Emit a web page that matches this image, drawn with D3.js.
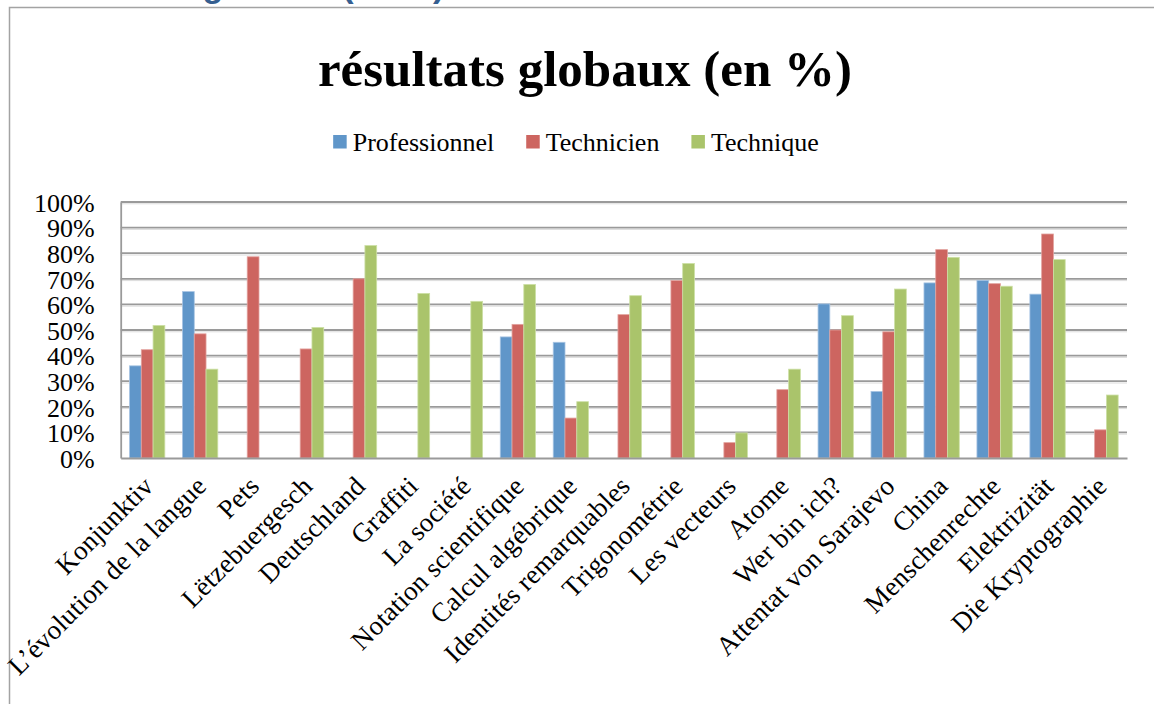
<!DOCTYPE html>
<html>
<head>
<meta charset="utf-8">
<script src="https://cdn.jsdelivr.net/npm/d3@7"></script>
<style>
  body { margin: 0; background: #fff; }
  svg { display: block; font-family: "Liberation Serif", "Times New Roman", serif; }
</style>
</head>
<body>
<div id="chart"></div>
<script>
// values (percent)
const categories = ["Konjunktiv", "L’évolution de la langue", "Pets", "Lëtzebuergesch", "Deutschland",
  "Graffiti", "La société", "Notation scientifique", "Calcul algébrique", "Identités remarquables",
  "Trigonométrie", "Les vecteurs", "Atome", "Wer bin ich?", "Attentat von Sarajevo", "China",
  "Menschenrechte", "Elektrizität", "Die Kryptographie"];
const seriesNames = ["Professionnel", "Technicien", "Technique"];
const professionnel = [36, 65, null, null, null, null, null, 47.3, 45.2, null, null, null, null, 60.2, 26, 68.4, 69.4, 64, null];
const technicien = [42.3, 48.5, 78.6, 42.6, 70, null, null, 52.2, 15.6, 56, 69.3, 6, 26.7, 50, 49.3, 81.4, 68.1, 87.5, 11];
const technique = [51.8, 34.7, null, 51, 83, 64.3, 61.2, 67.8, 22, 63.4, 76, 9.8, 34.7, 55.6, 66, 78.4, 67.1, 77.5, 24.6];
const yTicks = [0, 0.1, 0.2, 0.3, 0.4, 0.5, 0.6, 0.7, 0.8, 0.9, 1];

const colors = ["#6096c9", "#cd6560", "#aac46b"];
const edges = ["#a7c4e3", "#e2a29e", "#cde0a6"];
const serif = "Liberation Serif, Times New Roman, serif";

const width = 1154, height = 704;
const plot = { left: 120.7, right: 1127, top: 202, bottom: 458 };

const svg = d3.select("#chart").append("svg")
  .attr("width", width)
  .attr("height", height);

// frame of the embedded chart
svg.append("path")
  .attr("d", "M9.5," + height + "V7.5H" + width)
  .attr("fill", "none")
  .attr("stroke", "#a3a3a3")
  .attr("stroke-width", 1.5);

// cut-off heading of the page above the chart
svg.append("text")
  .attr("x", 40)
  .attr("y", -3)
  .attr("font-family", "Liberation Sans, sans-serif")
  .attr("font-weight", "bold")
  .attr("font-size", 34)
  .attr("fill", "#365f91")
  .text("Résultats globaux (en %)");

svg.append("text")
  .attr("x", 585)
  .attr("y", 86)
  .attr("text-anchor", "middle")
  .attr("font-family", serif)
  .attr("font-weight", "bold")
  .attr("font-size", 51)
  .text("résultats globaux (en %)");

const rows = categories.map((c, i) => ({
  name: c,
  values: [professionnel[i], technicien[i], technique[i]]
}));

const x = d3.scaleBand().domain(categories).range([plot.left, plot.right]);
const x1 = d3.scaleBand().domain(seriesNames).range([0, x.bandwidth()]).paddingOuter(0.75);
const y = d3.scaleLinear().domain([0, 1]).range([plot.bottom, plot.top]);

// gridlines
const grid = svg.append("g");
grid.selectAll("line.shadow")
  .data(yTicks.slice(1))
  .enter().append("line")
  .attr("class", "shadow")
  .attr("x1", plot.left).attr("x2", plot.right)
  .attr("y1", d => y(d) + 1.8).attr("y2", d => y(d) + 1.8)
  .attr("stroke", "#dcdcdc")
  .attr("stroke-width", 1);
grid.selectAll("line.major")
  .data(yTicks.slice(1))
  .enter().append("line")
  .attr("class", "major")
  .attr("x1", plot.left).attr("x2", plot.right)
  .attr("y1", d => y(d)).attr("y2", d => y(d))
  .attr("stroke", "#9a9a9a")
  .attr("stroke-width", 1.8);

// bars
const groups = svg.append("g").selectAll("g")
  .data(rows)
  .enter().append("g")
  .attr("transform", d => "translate(" + x(d.name) + ",0)");

groups.selectAll("rect")
  .data(d => d.values.map((v, k) => ({ key: seriesNames[k], k: k, v: v })).filter(e => e.v != null))
  .enter().append("rect")
  .attr("x", d => x1(d.key))
  .attr("y", d => y(d.v / 100))
  .attr("width", x1.bandwidth())
  .attr("height", d => y(0) - y(d.v / 100))
  .attr("fill", d => colors[d.k])
  .attr("stroke", d => edges[d.k])
  .attr("stroke-width", 0.8);

// axes
const yAxis = svg.append("g")
  .attr("transform", "translate(" + plot.left + ",0)")
  .call(d3.axisLeft(y).tickValues(yTicks).tickFormat(d3.format(".0%")).tickSize(0).tickPadding(26));
yAxis.select(".domain").attr("stroke", "#9a9a9a").attr("stroke-width", 1.8);
yAxis.selectAll("text")
  .attr("font-family", serif)
  .attr("font-size", 26)
  .attr("fill", "#000")
  .attr("dy", "0.36em");

const xAxis = svg.append("g")
  .attr("transform", "translate(0," + plot.bottom + ")")
  .call(d3.axisBottom(x).tickSize(0).tickFormat(""));
xAxis.select(".domain").attr("stroke", "#9a9a9a").attr("stroke-width", 1.8);

svg.append("g").selectAll("text")
  .data(categories)
  .enter().append("text")
  .attr("transform", d => "translate(" + (x(d) + x.bandwidth() / 2 - 6) + "," + (plot.bottom + 16) + ") rotate(-45)")
  .attr("text-anchor", "end")
  .attr("dy", "0.72em")
  .attr("font-family", serif)
  .attr("font-size", 27)
  .attr("letter-spacing", 0.2)
  .text(d => d);

// legend
const legend = svg.append("g");
const items = legend.selectAll("g")
  .data(seriesNames)
  .enter().append("g");
items.append("rect")
  .attr("width", 13.5).attr("height", 13.5)
  .attr("y", 135)
  .attr("fill", (d, i) => colors[i]);
items.append("text")
  .attr("x", 19.5)
  .attr("y", 151)
  .attr("font-family", serif)
  .attr("font-size", 26)
  .text(d => d);
let pos = 0;
const offsets = [];
items.each(function () {
  offsets.push(pos);
  pos += 19.5 + this.querySelector("text").getComputedTextLength() + 32;
});
const total = pos - 32;
const start = 576 - total / 2;
items.attr("transform", (d, i) => "translate(" + (start + offsets[i]) + ",0)");
</script>
</body>
</html>
